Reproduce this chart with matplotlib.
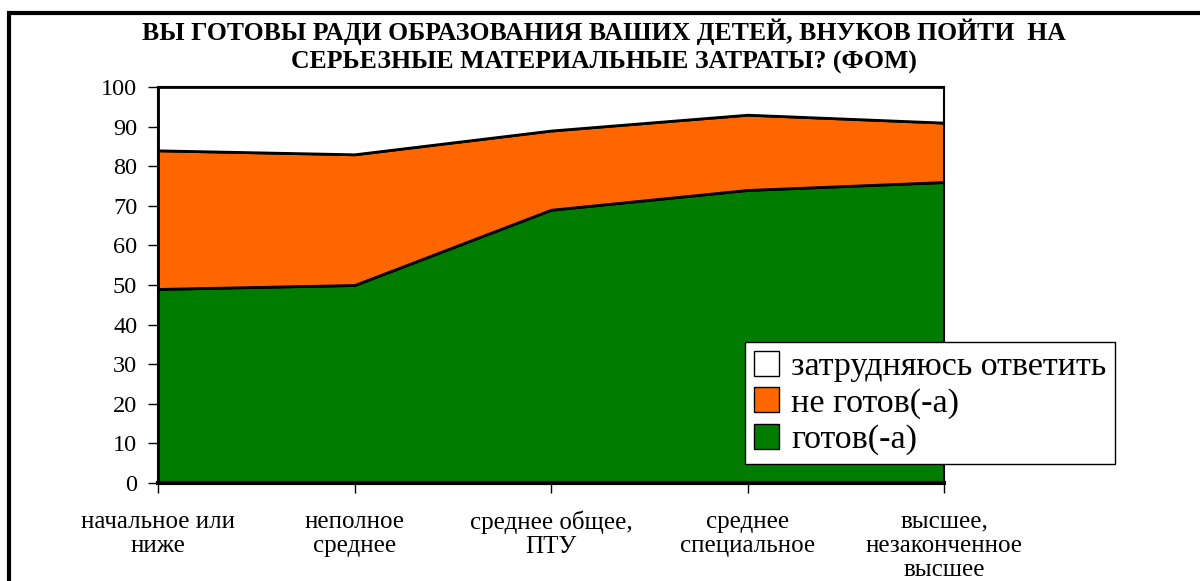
import matplotlib
matplotlib.use("Agg")
import matplotlib.pyplot as plt
from matplotlib.patches import Rectangle, Patch

# data
categories = ["начальное или\nниже", "неполное\nсреднее", "среднее общее,\nПТУ",
              "среднее\nспециальное", "высшее,\nнезаконченное\nвысшее"]
ready = [49, 50, 69, 74, 76]
not_ready = [35, 33, 20, 19, 15]
hard_to_say = [16, 17, 11, 7, 9]
series_names = ["готов(-а)", "не готов(-а)", "затрудняюсь ответить"]
series_colors = ["#007d00", "#ff6600", "#ffffff"]
yticks = [0, 10, 20, 30, 40, 50, 60, 70, 80, 90, 100]

title = ("ВЫ ГОТОВЫ РАДИ ОБРАЗОВАНИЯ ВАШИХ ДЕТЕЙ, ВНУКОВ ПОЙТИ  НА\n"
         "СЕРЬЕЗНЫЕ МАТЕРИАЛЬНЫЕ ЗАТРАТЫ? (ФОМ)")

plt.rcParams['font.family'] = ['Liberation Serif', 'DejaVu Serif']

fig = plt.figure(figsize=(12, 5.81), dpi=100)
ax = fig.add_axes([0.1317, 0.1687, 0.655, 0.6816])

x = list(range(len(categories)))
ax.stackplot(x, ready, not_ready, hard_to_say, colors=series_colors,
             edgecolor="black", linewidth=2)

ax.set_xlim(0, len(categories) - 1)
ax.set_ylim(0, 100)
ax.set_yticks(yticks)
ax.set_xticks(x)
ax.set_xticklabels(categories, fontsize=18, linespacing=1.12)
ax.tick_params(axis="y", labelsize=17.5, length=7, width=1, direction="out", pad=8)
ax.tick_params(axis="x", length=7, width=1, direction="out", pad=13)
for s in ax.spines.values():
    s.set_color("black")
    s.set_linewidth(1.5)
ax.spines["bottom"].set_linewidth(3)

fig.text(0.503, 0.92, title, ha="center", va="center", fontsize=18.5,
         fontweight="bold", linespacing=1.3)

# outer frame of the slide
fig.patches.append(Rectangle((9 / 1200, -0.1), 1.2, 1.1 - 13 / 581,
                             transform=fig.transFigure, fill=False,
                             edgecolor="black", linewidth=3, clip_on=False))

handles = [Patch(facecolor=c, edgecolor="black", linewidth=1)
           for c in series_colors][::-1]
leg = fig.legend(handles, series_names[::-1], loc="upper left",
                 bbox_to_anchor=(0.621, 0.411), fontsize=24.5, frameon=True,
                 fancybox=False, framealpha=1, handlelength=0.75,
                 handleheight=0.75, handletextpad=0.35, labelspacing=0.15,
                 borderpad=0.25, borderaxespad=0)
leg.get_frame().set_edgecolor("black")
leg.get_frame().set_linewidth(1)

fig.savefig("out.png", dpi=100)
